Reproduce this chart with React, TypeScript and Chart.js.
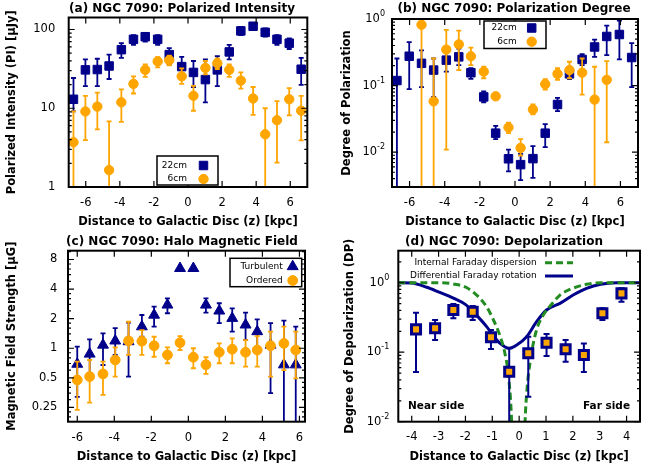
import React, { useEffect, useRef } from 'react';
import { Chart, registerables } from 'chart.js';

Chart.register(...registerables);

const FONT = "'DejaVu Sans', sans-serif";
const NAVY = '#00008b';
const ORANGE = '#ffa500';
const GREEN = '#228b22';

// ---------- Panel (a): polarized intensity [uJy] ----------
const zA = [-6.72, -6.02, -5.32, -4.63, -3.91, -3.2, -2.51, -1.78, -1.1, -0.37, 0.32, 1.02, 1.72, 2.42, 3.1, 3.82, 4.53, 5.22, 5.94, 6.64];
const pi22 = [13.0, 30.7, 31, 34.4, 55.4, 75, 81, 75, 48, 33.8, 28.5, 23.1, 30.7, 51.9, 96, 110, 92, 75, 67, 31.3];
const pi22Hi = [24.2, 41.7, 42.5, 48, 67, 85, 90.8, 85, 58, 44.9, 39.8, 41.7, 45.9, 63.9, 107.7, 120.7, 102.9, 85, 77.3, 43.7];
const pi22Lo = [9.1, 19.1, 19.1, 23.5, 43.7, 63.9, 70.2, 63.9, 36, 25.4, 18.6, 11.9, 19.1, 41.7, 85, 98, 81, 63.9, 56.5, 19.8];
const pi6 = [3.7, 9.1, 10.5, 1.64, 11.9, 20.4, 30.7, 39.3, 40.8, 25.4, 14.4, 32.5, 37.2, 30.7, 22.4, 13.3, 4.67, 7.05, 13, 9.3];
const pi6Hi = [9.1, 14.4, 15.8, 6.8, 17.4, 25.4, 36, 44.7, 46.5, 32, 19.2, 39.8, 43, 36, 28.5, 18.6, 10, 12.3, 18, 14.4];
const pi6Lo = [0.5, 3.94, 5.4, 0.5, 6.7, 15.4, 25, 33, 35, 20.4, 9.3, 27, 31.5, 25, 17.7, 8.26, 0.5, 2.04, 8.1, 3.9];
const xTicksA = [-6, -4, -2, 0, 2, 4, 6];
const xLabelsA = ['-6', '-4', '-2', '0', '2', '4', '6'];
const yTicksA = [1, 10, 100];
const yLabelsA = ['1', '10', '100'];

// ---------- Panel (b): degree of polarization ----------
const pd22 = [0.119, 0.276, 0.216, 0.171, 0.241, 0.27, 0.156, 0.0676, 0.0193, 0.00796, 0.0065, 0.008, 0.0193, 0.052, 0.15, 0.247, 0.38, 0.547, 0.585, 0.264];
const pd22Hi = [0.255, 0.45, 0.339, 0.255, 0.339, 0.36, 0.182, 0.0818, 0.0248, 0.0109, 0.00944, 0.0123, 0.0263, 0.0653, 0.176, 0.296, 0.489, 0.796, 0.944, 0.435];
const pd22Lo = [0.001, 0.0887, 0.095, 0.0676, 0.162, 0.203, 0.126, 0.0562, 0.0157, 0.00516, 0.0038, 0.00412, 0.0119, 0.0413, 0.125, 0.203, 0.27, 0.286, 0.247, 0.095];
const zB6 = [-5.32, -4.63, -3.91, -3.2, -2.51, -1.78, -1.1, -0.37, 0.32, 1.02, 1.72, 2.42, 3.1, 3.82, 4.53, 5.22];
const pd6 = [0.82, 0.058, 0.347, 0.416, 0.276, 0.162, 0.069, 0.0235, 0.0116, 0.0438, 0.105, 0.15, 0.171, 0.156, 0.0616, 0.122];
const pd6Hi = [1.1, 0.255, 0.687, 0.671, 0.372, 0.192, 0.075, 0.0278, 0.0157, 0.052, 0.125, 0.182, 0.228, 0.255, 0.192, 0.233];
const pd6Lo = [0.001, 0.001, 0.0109, 0.171, 0.203, 0.129, 0.063, 0.0193, 0.0089, 0.0369, 0.0867, 0.122, 0.129, 0.073, 0.001, 0.0141];
const yTicksB = [0.01, 0.1, 1];
const yExpB = ['-2', '-1', '0'];

// ---------- Panel (c): halo magnetic field [uG] ----------
const zC = [-6.0, -5.33, -4.61, -3.95, -3.23, -2.51, -1.85, -1.13, -0.45, 0.27, 0.95, 1.67, 2.37, 3.09, 3.72, 4.44, 5.16, 5.8];
const bTurb = [0.69, 0.875, 1.08, 1.19, 1.17, 1.66, 2.18, 2.76, 6.5, 6.5, 2.76, 2.4, 2.02, 1.73, 1.48, 1.08, 0.68, 0.68];
const bTurbHi = [1.04, 1.23, 1.42, 1.6, 1.82, 2.18, 2.65, 3.22, null, null, 3.22, 2.87, 2.55, 2.3, 1.97, 1.8, 1.91, 1.66];
const bTurbLo = [0.32, 0.557, 0.676, 0.855, 0.514, 1.31, 1.66, 2.27, null, null, 2.3, 1.8, 1.48, 1.21, 1.0, 0.349, 0.05, 0.05];
const bOrd = [0.476, 0.515, 0.548, 0.76, 1.19, 1.18, 1.06, 0.855, 1.14, 0.81, 0.68, 0.91, 0.977, 0.91, 0.96, 1.06, 1.12, 0.96];
const bOrdHi = [0.73, 0.76, 0.73, 1.02, 1.86, 1.53, 1.31, 1.02, 1.33, 1.0, 0.81, 1.12, 1.26, 1.21, 1.33, 1.48, 1.66, 1.48];
const bOrdLo = [0.236, 0.28, 0.335, 0.514, 0.855, 0.855, 0.82, 0.704, 0.96, 0.626, 0.548, 0.704, 0.704, 0.65, 0.65, 0.514, 0.6, 0.495];
const yTicksC = [0.25, 0.5, 1, 2, 4, 8];
const yLabelsC = ['0.25', '0.5', '1', '2', '4', '8'];

// ---------- Panel (d): depolarization ----------
const zD = [-3.84, -3.13, -2.45, -1.73, -1.05, -0.37, 0.34, 1.02, 1.73, 2.41, 3.1, 3.81];
const dpObs = [0.213, 0.221, 0.405, 0.383, 0.164, 0.0525, 0.0965, 0.137, 0.11, 0.091, 0.363, 0.703];
const dpHi = [0.37, 0.29, 0.494, 0.462, 0.209, 0.114, 0.167, 0.183, 0.15, 0.134, 0.428, 0.83];
const dpLo = [0.052, 0.15, 0.307, 0.29, 0.111, 0.001, 0.0229, 0.088, 0.073, 0.052, 0.29, 0.533];
const difRotZ = [-4.5, -4.0, -3.44, -3.01, -2.45, -1.98, -1.52, -1.21, -0.99, -0.71, -0.37, -0.09, 0.28, 0.65, 1.02, 1.52, 2.01, 2.51, 3.03, 3.62, 4.5];
const difRotDP = [1.0, 0.99, 0.86, 0.74, 0.6, 0.48, 0.32, 0.233, 0.178, 0.134, 0.114, 0.127, 0.167, 0.275, 0.405, 0.505, 0.665, 0.83, 0.95, 1.0, 1.0];
const intDispZ = [-4.5, -3.0, -2.45, -1.98, -1.52, -1.21, -0.99, -0.71, -0.53, -0.38, -0.28, -0.24, 0.18, 0.22, 0.29, 0.46, 0.65, 0.9, 1.21, 1.52, 1.89, 2.51, 3.13, 4.5];
const intDispDP = [1.0, 1.0, 0.96, 0.86, 0.63, 0.45, 0.31, 0.17, 0.096, 0.04, 0.01, 0.003, 0.003, 0.01, 0.0286, 0.096, 0.21, 0.343, 0.49, 0.665, 0.8, 0.95, 1.0, 1.0];
const xTicksD = [-4, -3, -2, -1, 0, 1, 2, 3, 4];
const xLabelsD = ['-4', '-3', '-2', '-1', '0', '1', '2', '3', '4'];

const X_TITLE = 'Distance to Galactic Disc (z) [kpc]';

function log10Minor(min: number, max: number) {
  const out: number[] = [];
  for (let e = Math.floor(Math.log10(min)); e <= Math.ceil(Math.log10(max)); e++) {
    for (let m = 2; m <= 9; m++) {
      const v = m * Math.pow(10, e);
      if (v > min && v < max) out.push(v);
    }
  }
  return out;
}
function log2Minor(min: number, max: number) {
  const out: number[] = [];
  for (let e = Math.floor(Math.log2(min)); e <= Math.ceil(Math.log2(max)); e++) {
    const b = Math.pow(2, e);
    for (let k = 1; k <= 4; k++) {
      const v = b * (1 + k / 5);
      if (v > min && v < max) out.push(v);
    }
  }
  return out;
}

const pts = (xs: number[], ys: number[]) => xs.map((x, i) => ({ x, y: ys[i] }));

function drawMarker(ctx: any, style: string, x: number, y: number, r: number, fill: string, stroke: string, bw: number) {
  ctx.save();
  ctx.fillStyle = fill;
  ctx.strokeStyle = stroke;
  ctx.lineWidth = bw;
  ctx.beginPath();
  if (style === 'rect') {
    const s = r * Math.SQRT1_2;
    ctx.rect(x - s, y - s, 2 * s, 2 * s);
  } else if (style === 'circle') {
    ctx.arc(x, y, r, 0, Math.PI * 2);
  } else {
    for (let k = 0; k < 3; k++) {
      const ang = (k * 2 * Math.PI) / 3;
      const px = x + Math.sin(ang) * r;
      const py = y - Math.cos(ang) * r;
      if (k === 0) ctx.moveTo(px, py); else ctx.lineTo(px, py);
    }
  }
  ctx.closePath();
  ctx.fill();
  if (bw > 0) ctx.stroke();
  ctx.restore();
}

function makePlugin(spec: any) {
  return {
    id: 'gp',
    beforeDatasetDraw(chart: any, args: any) {
      const eb = spec.errorBars[args.index];
      if (!eb) return;
      const ds = chart.data.datasets[args.index];
      const xs = chart.scales.x, ys = chart.scales.y;
      const ctx = chart.ctx, a = chart.chartArea;
      ctx.save();
      ctx.beginPath();
      ctx.rect(a.left, a.top, a.right - a.left, a.bottom - a.top);
      ctx.clip();
      ctx.strokeStyle = eb.color;
      ctx.lineWidth = eb.width;
      ds.data.forEach((p: any, i: number) => {
        const lo = eb.lo[i], hi = eb.hi[i];
        if (lo == null || hi == null) return;
        const x = xs.getPixelForValue(p.x);
        const y1 = ys.getPixelForValue(lo);
        const y2 = ys.getPixelForValue(hi);
        ctx.beginPath();
        ctx.moveTo(x, y1); ctx.lineTo(x, y2);
        ctx.moveTo(x - eb.cap, y1); ctx.lineTo(x + eb.cap, y1);
        ctx.moveTo(x - eb.cap, y2); ctx.lineTo(x + eb.cap, y2);
        ctx.stroke();
      });
      ctx.restore();
    },
    afterDraw(chart: any) {
      const ctx = chart.ctx, a = chart.chartArea;
      const xs = chart.scales.x, ys = chart.scales.y;
      ctx.save();
      ctx.strokeStyle = '#000';
      ctx.lineWidth = 1.2;
      ctx.beginPath();
      spec.xTicks.forEach((v: number) => {
        const px = xs.getPixelForValue(v);
        ctx.moveTo(px, a.bottom); ctx.lineTo(px, a.bottom - 6);
        ctx.moveTo(px, a.top); ctx.lineTo(px, a.top + 6);
      });
      spec.yTicks.forEach((v: number) => {
        const py = ys.getPixelForValue(v);
        ctx.moveTo(a.left, py); ctx.lineTo(a.left + 6, py);
        ctx.moveTo(a.right, py); ctx.lineTo(a.right - 6, py);
      });
      spec.yMinor.forEach((v: number) => {
        const py = ys.getPixelForValue(v);
        ctx.moveTo(a.left, py); ctx.lineTo(a.left + 3, py);
        ctx.moveTo(a.right, py); ctx.lineTo(a.right - 3, py);
      });
      ctx.stroke();
      ctx.lineWidth = 2;
      ctx.strokeRect(a.left, a.top, a.right - a.left, a.bottom - a.top);

      ctx.fillStyle = '#000';
      // x tick labels
      ctx.font = `11.5px ${FONT}`;
      ctx.textAlign = 'center';
      ctx.textBaseline = 'middle';
      spec.xTicks.forEach((v: number, i: number) => {
        ctx.fillText(spec.xLabels[i], xs.getPixelForValue(v), a.bottom + spec.xLabelOff);
      });
      // y tick labels
      spec.yTicks.forEach((v: number, i: number) => {
        const py = ys.getPixelForValue(v);
        const rx = a.left - spec.yPad;
        ctx.textAlign = 'right';
        ctx.textBaseline = 'middle';
        if (spec.yExp) {
          ctx.font = `8px ${FONT}`;
          const w = ctx.measureText(spec.yExp[i]).width;
          ctx.fillText(spec.yExp[i], rx, py - 5);
          ctx.font = `11.5px ${FONT}`;
          ctx.fillText('10', rx - w, py);
        } else {
          ctx.font = `11.5px ${FONT}`;
          ctx.fillText(spec.yLabels[i], rx, py);
        }
      });
      // title
      ctx.font = `bold 12px ${FONT}`;
      ctx.textAlign = 'center';
      ctx.textBaseline = 'middle';
      ctx.fillText(spec.title, spec.titleX, spec.titleY);

      // point legend
      if (spec.legend) {
        const L = spec.legend;
        ctx.fillStyle = '#fff';
        ctx.fillRect(L.box[0], L.box[1], L.box[2], L.box[3]);
        ctx.strokeStyle = '#000';
        ctx.lineWidth = 1.5;
        ctx.strokeRect(L.box[0], L.box[1], L.box[2], L.box[3]);
        L.rows.forEach((r: any) => {
          ctx.fillStyle = '#000';
          ctx.font = `${L.size}px ${FONT}`;
          ctx.textAlign = 'right';
          ctx.textBaseline = 'middle';
          ctx.fillText(r.text, L.textX, r.y);
          drawMarker(ctx, r.style, L.markerX, r.y, r.r, r.color, r.color, 1);
        });
      }
      // line legend
      if (spec.lineLegend) {
        const L = spec.lineLegend;
        L.rows.forEach((r: any) => {
          ctx.fillStyle = '#000';
          ctx.font = `${L.size}px ${FONT}`;
          ctx.textAlign = 'right';
          ctx.textBaseline = 'middle';
          ctx.fillText(r.text, L.textX, r.y);
          ctx.save();
          ctx.strokeStyle = r.color;
          ctx.lineWidth = 3;
          ctx.setLineDash(r.dash);
          ctx.beginPath();
          ctx.moveTo(L.x1, r.y);
          ctx.lineTo(L.x2, r.y);
          ctx.stroke();
          ctx.restore();
        });
      }
      if (spec.texts) {
        spec.texts.forEach((t: any) => {
          ctx.fillStyle = '#000';
          ctx.font = `bold 10.5px ${FONT}`;
          ctx.textAlign = t.align;
          ctx.textBaseline = 'middle';
          ctx.fillText(t.text, t.x, t.y);
        });
      }
      ctx.restore();
    },
  };
}

function buildConfig(spec: any) {
  return {
    type: 'scatter',
    data: { datasets: spec.datasets },
    options: {
      animation: false,
      responsive: false,
      devicePixelRatio: 1,
      layout: { padding: { left: 0, right: spec.padRight, top: spec.padTop, bottom: 0 } },
      plugins: { legend: { display: false }, tooltip: { enabled: false }, title: { display: false } },
      scales: {
        x: {
          type: 'linear',
          min: spec.xMin,
          max: spec.xMax,
          grid: { display: false, drawTicks: false },
          border: { display: false },
          afterBuildTicks: (s: any) => { s.ticks = spec.xTicks.map((v: number) => ({ value: v })); },
          ticks: { display: false },
          title: {
            display: true,
            text: X_TITLE,
            color: '#000',
            font: { family: FONT, size: 11.5, weight: 'bold' },
            padding: { top: 0, bottom: spec.xTitlePad },
          },
          afterFit: (s: any) => { s.height = spec.xHeight; s.paddingLeft = 0; s.paddingRight = 0; },
        },
        y: {
          type: 'logarithmic',
          min: spec.yMin,
          max: spec.yMax,
          grid: { display: false, drawTicks: false },
          border: { display: false },
          afterBuildTicks: (s: any) => { s.ticks = spec.yTicks.map((v: number) => ({ value: v })); },
          ticks: { display: false },
          title: {
            display: true,
            text: spec.yTitle,
            color: '#000',
            font: { family: FONT, size: 11.5, weight: 'bold' },
            padding: { top: spec.yTitlePad, bottom: 0 },
          },
          afterFit: (s: any) => { s.width = spec.yWidth; s.paddingTop = 0; s.paddingBottom = 0; },
        },
      },
    },
    plugins: [makePlugin(spec)],
  };
}

const pointDs = (data: any, style: string, r: number, fill: string, stroke: string, bw: number, order: number) => ({
  data,
  pointStyle: style,
  pointRadius: r,
  pointBackgroundColor: fill,
  pointBorderColor: stroke,
  pointBorderWidth: bw,
  showLine: false,
  clip: false,
  order,
});

const specA = {
  title: '(a) NGC 7090: Polarized Intensity', titleX: 182, titleY: 8.5,
  padRight: 24.7, padTop: 17.5, yWidth: 68.7, xHeight: 46,
  xMin: -7, xMax: 7, xTicks: xTicksA, xLabels: xLabelsA, xLabelOff: 16.3, xTitlePad: 4.4,
  yMin: 1, yMax: 142, yTicks: yTicksA, yLabels: yLabelsA, yPad: 13.5,
  yTitle: 'Polarized Intensity (PI) [\u03bcJy]', yTitlePad: 4.8, yMinor: log10Minor(1, 142),
  datasets: [
    pointDs(pts(zA, pi22), 'rect', 6, NAVY, NAVY, 1, 2),
    pointDs(pts(zA, pi6), 'circle', 4.7, ORANGE, ORANGE, 1, 1),
  ],
  errorBars: {
    0: { lo: pi22Lo, hi: pi22Hi, color: NAVY, cap: 2.5, width: 1.8 },
    1: { lo: pi6Lo, hi: pi6Hi, color: ORANGE, cap: 2.5, width: 1.8 },
  },
  legend: {
    box: [157, 156, 61, 29], textX: 187, markerX: 203.5, size: 9,
    rows: [
      { text: '22cm', y: 165.5, style: 'rect', r: 6, color: NAVY },
      { text: '6cm', y: 179, style: 'circle', r: 4.7, color: ORANGE },
    ],
  },
};

const specB = {
  title: '(b) NGC 7090: Polarization Degree', titleX: 182, titleY: 8.5,
  padRight: 26, padTop: 19, yWidth: 60, xHeight: 46,
  xMin: -7, xMax: 7, xTicks: xTicksA, xLabels: xLabelsA, xLabelOff: 16.3, xTitlePad: 4.4,
  yMin: 0.003, yMax: 1, yTicks: yTicksB, yLabels: null, yExp: yExpB, yPad: 7,
  yTitle: 'Degree of Polarization', yTitlePad: 7.8, yMinor: log10Minor(0.003, 1),
  datasets: [
    pointDs(pts(zA, pd22), 'rect', 6, NAVY, NAVY, 1, 2),
    pointDs(pts(zB6, pd6), 'circle', 4.7, ORANGE, ORANGE, 1, 1),
  ],
  errorBars: {
    0: { lo: pd22Lo, hi: pd22Hi, color: NAVY, cap: 2.5, width: 1.8 },
    1: { lo: pd6Lo, hi: pd6Hi, color: ORANGE, cap: 2.5, width: 1.8 },
  },
  legend: {
    box: [152, 21, 62, 27.5], textX: 184.7, markerX: 199.7, size: 9,
    rows: [
      { text: '22cm', y: 28, style: 'rect', r: 6, color: NAVY },
      { text: '6cm', y: 41.7, style: 'circle', r: 4.7, color: ORANGE },
    ],
  },
};

const specC = {
  title: '(c) NGC 7090: Halo Magnetic Field', titleX: 182, titleY: 8.7,
  padRight: 27, padTop: 17.7, yWidth: 68, xHeight: 44.3,
  xMin: -6.5, xMax: 6.3, xTicks: xTicksA, xLabels: xLabelsA, xLabelOff: 16.6, xTitlePad: 2.4,
  yMin: 0.179, yMax: 9.83, yTicks: yTicksC, yLabels: yLabelsC, yPad: 10.7,
  yTitle: 'Magnetic Field Strength [\u03bcG]', yTitlePad: 4.8, yMinor: log2Minor(0.179, 9.83),
  datasets: [
    pointDs(pts(zC, bTurb), 'triangle', 6.3, NAVY, NAVY, 1, 2),
    pointDs(pts(zC, bOrd), 'circle', 4.9, ORANGE, ORANGE, 1, 1),
  ],
  errorBars: {
    0: { lo: bTurbLo, hi: bTurbHi, color: NAVY, cap: 2.5, width: 1.8 },
    1: { lo: bOrdLo, hi: bOrdHi, color: ORANGE, cap: 2.5, width: 1.8 },
  },
  legend: {
    box: [230, 25.3, 71.7, 28.4], textX: 282.7, markerX: 292.7, size: 9,
    rows: [
      { text: 'Turbulent', y: 33.5, style: 'triangle', r: 6.3, color: NAVY },
      { text: 'Ordered', y: 47.5, style: 'circle', r: 4.9, color: ORANGE },
    ],
  },
};

const specD = {
  title: '(d) NGC 7090: Depolarization', titleX: 172, titleY: 8.7,
  padRight: 24, padTop: 17.7, yWidth: 66.3, xHeight: 44.3,
  xMin: -4.5, xMax: 4.5, xTicks: xTicksD, xLabels: xLabelsD, xLabelOff: 15.2, xTitlePad: 2.4,
  yMin: 0.01, yMax: 2.89, yTicks: yTicksB, yLabels: null, yExp: ['-2', '-1', '0'], yPad: 9,
  yTitle: 'Degree of Depolarization (DP)', yTitlePad: 11.1, yMinor: log10Minor(0.01, 2.89),
  datasets: [
    {
      data: pts(difRotZ, difRotDP), showLine: true, pointRadius: 0, borderColor: NAVY, borderWidth: 3,
      cubicInterpolationMode: 'monotone', fill: false, order: 3,
    },
    {
      data: pts(intDispZ, intDispDP), showLine: true, pointRadius: 0, borderColor: GREEN, borderWidth: 3,
      borderDash: [7, 4], cubicInterpolationMode: 'monotone', fill: false, order: 2,
    },
    pointDs(pts(zD, dpObs), 'rect', 6.4, ORANGE, NAVY, 3, 1),
  ],
  errorBars: {
    2: { lo: dpLo, hi: dpHi, color: NAVY, cap: 3, width: 2 },
  },
  lineLegend: {
    textX: 204.7, x1: 213, x2: 241, size: 9,
    rows: [
      { text: 'Internal Faraday dispersion', y: 29.7, color: GREEN, dash: [7, 4] },
      { text: 'Differential Faraday rotation', y: 43, color: NAVY, dash: [] },
    ],
  },
  texts: [
    { text: 'Near side', x: 76, y: 173.7, align: 'left' },
    { text: 'Far side', x: 298, y: 173.7, align: 'right' },
  ],
};

function Panel({ spec, left, top }: { spec: any; left: number; top: number }) {
  const ref = useRef<HTMLCanvasElement | null>(null);
  useEffect(() => {
    if (!ref.current) return;
    const chart = new Chart(ref.current, buildConfig(spec) as any);
    return () => chart.destroy();
  }, [spec]);
  return (
    <canvas
      ref={ref}
      width={332}
      height={233}
      style={{ position: 'absolute', left, top, width: 332, height: 233 }}
    />
  );
}

export default function App() {
  return (
    <div style={{ position: 'fixed', left: 0, top: 0, width: 664, height: 466, background: '#fff' }}>
      <Panel spec={specA} left={0} top={0} />
      <Panel spec={specB} left={332} top={0} />
      <Panel spec={specC} left={0} top={233} />
      <Panel spec={specD} left={332} top={233} />
    </div>
  );
}
